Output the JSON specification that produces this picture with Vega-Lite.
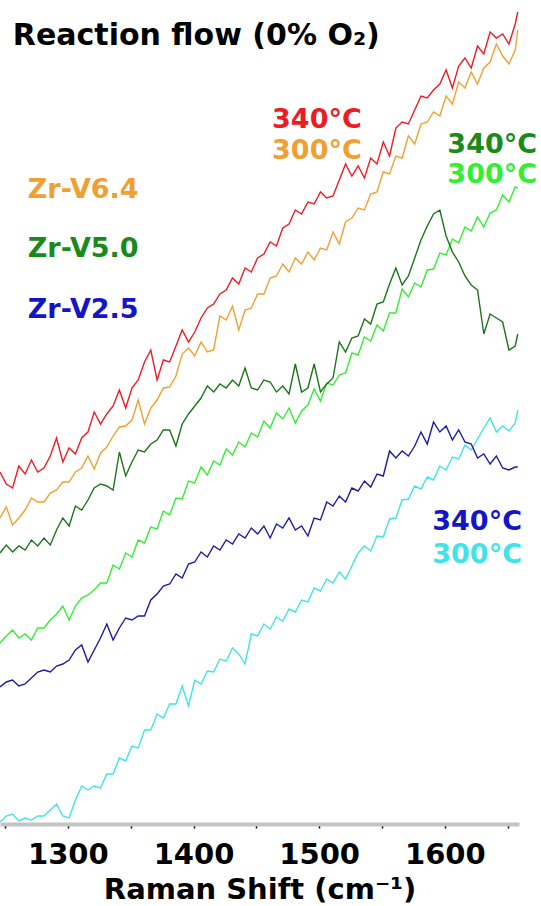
{
  "$schema": "https://vega.github.io/schema/vega-lite/v6.json",
  "width": 519,
  "height": 824,
  "autosize": {"type": "none"},
  "padding": {"left": 0, "top": 0, "right": 22, "bottom": 82},
  "background": "white",
  "config": {"view": {"stroke": null}, "font": "DejaVu Sans"},
  "datasets": {
    "spectra": [
      {"x":1246,"r":352,"o":306,"dg":271,"lg":181,"b":137,"c":2},
      {"x":1251,"r":340,"o":317,"dg":279,"lg":188,"b":142,"c":8},
      {"x":1256,"r":336,"o":299,"dg":272,"lg":194,"b":144,"c":10},
      {"x":1261,"r":358,"o":306,"dg":278,"lg":186,"b":138,"c":3},
      {"x":1266,"r":350,"o":314,"dg":274,"lg":190,"b":140,"c":6},
      {"x":1271,"r":364,"o":326,"dg":284,"lg":184,"b":146,"c":4},
      {"x":1276,"r":352,"o":322,"dg":278,"lg":196,"b":152,"c":8},
      {"x":1281,"r":356,"o":322,"dg":286,"lg":196,"b":154,"c":8},
      {"x":1286,"r":368,"o":331,"dg":279,"lg":204,"b":152,"c":14},
      {"x":1291,"r":386,"o":334,"dg":294,"lg":210,"b":158,"c":20},
      {"x":1296,"r":362,"o":342,"dg":306,"lg":218,"b":160,"c":8},
      {"x":1301,"r":376,"o":342,"dg":298,"lg":204,"b":164,"c":6},
      {"x":1306,"r":370,"o":352,"dg":318,"lg":218,"b":174,"c":24},
      {"x":1311,"r":386,"o":356,"dg":314,"lg":226,"b":179,"c":38},
      {"x":1316,"r":392,"o":368,"dg":324,"lg":229,"b":162,"c":34},
      {"x":1321,"r":412,"o":355,"dg":336,"lg":234,"b":174,"c":38},
      {"x":1326,"r":400,"o":371,"dg":340,"lg":241,"b":186,"c":36},
      {"x":1331,"r":410,"o":377,"dg":338,"lg":241,"b":200,"c":50},
      {"x":1336,"r":418,"o":388,"dg":334,"lg":259,"b":184,"c":50},
      {"x":1341,"r":434,"o":397,"dg":372,"lg":255,"b":196,"c":66},
      {"x":1346,"r":416,"o":398,"dg":348,"lg":271,"b":206,"c":63},
      {"x":1351,"r":436,"o":404,"dg":362,"lg":267,"b":204,"c":78},
      {"x":1356,"r":444,"o":424,"dg":374,"lg":284,"b":208,"c":76},
      {"x":1361,"r":462,"o":400,"dg":372,"lg":281,"b":208,"c":94},
      {"x":1366,"r":474,"o":416,"dg":380,"lg":297,"b":224,"c":94},
      {"x":1371,"r":444,"o":424,"dg":384,"lg":295,"b":230,"c":110},
      {"x":1376,"r":464,"o":436,"dg":394,"lg":313,"b":238,"c":106},
      {"x":1381,"r":462,"o":437,"dg":394,"lg":309,"b":240,"c":120},
      {"x":1386,"r":478,"o":448,"dg":378,"lg":326,"b":250,"c":120},
      {"x":1391,"r":494,"o":470,"dg":400,"lg":325,"b":246,"c":138},
      {"x":1396,"r":482,"o":476,"dg":410,"lg":343,"b":260,"c":118},
      {"x":1401,"r":492,"o":468,"dg":418,"lg":341,"b":262,"c":144},
      {"x":1406,"r":506,"o":482,"dg":426,"lg":357,"b":272,"c":140},
      {"x":1411,"r":516,"o":472,"dg":438,"lg":349,"b":267,"c":153},
      {"x":1416,"r":520,"o":474,"dg":432,"lg":363,"b":278,"c":152},
      {"x":1421,"r":530,"o":508,"dg":440,"lg":359,"b":274,"c":165},
      {"x":1426,"r":534,"o":504,"dg":436,"lg":375,"b":284,"c":163},
      {"x":1431,"r":546,"o":518,"dg":444,"lg":369,"b":280,"c":176},
      {"x":1436,"r":540,"o":494,"dg":438,"lg":382,"b":290,"c":170},
      {"x":1441,"r":556,"o":514,"dg":456,"lg":377,"b":286,"c":160},
      {"x":1446,"r":552,"o":516,"dg":436,"lg":391,"b":296,"c":190},
      {"x":1451,"r":566,"o":530,"dg":434,"lg":387,"b":290,"c":188},
      {"x":1456,"r":570,"o":530,"dg":444,"lg":403,"b":298,"c":200},
      {"x":1461,"r":582,"o":546,"dg":442,"lg":396,"b":286,"c":195},
      {"x":1466,"r":578,"o":548,"dg":432,"lg":411,"b":300,"c":207},
      {"x":1471,"r":596,"o":560,"dg":438,"lg":405,"b":296,"c":203},
      {"x":1476,"r":600,"o":552,"dg":430,"lg":416,"b":306,"c":215},
      {"x":1481,"r":614,"o":566,"dg":460,"lg":401,"b":294,"c":212},
      {"x":1486,"r":610,"o":560,"dg":432,"lg":413,"b":298,"c":224},
      {"x":1491,"r":622,"o":572,"dg":436,"lg":419,"b":288,"c":222},
      {"x":1496,"r":620,"o":564,"dg":460,"lg":435,"b":306,"c":236},
      {"x":1501,"r":632,"o":576,"dg":432,"lg":423,"b":304,"c":233},
      {"x":1506,"r":626,"o":574,"dg":440,"lg":441,"b":322,"c":245},
      {"x":1511,"r":628,"o":592,"dg":446,"lg":439,"b":318,"c":241},
      {"x":1516,"r":644,"o":580,"dg":482,"lg":449,"b":328,"c":252},
      {"x":1521,"r":660,"o":602,"dg":472,"lg":451,"b":322,"c":245},
      {"x":1526,"r":648,"o":606,"dg":486,"lg":471,"b":336,"c":258},
      {"x":1531,"r":658,"o":616,"dg":488,"lg":469,"b":333,"c":271},
      {"x":1536,"r":646,"o":614,"dg":505,"lg":487,"b":343,"c":278},
      {"x":1541,"r":666,"o":630,"dg":500,"lg":483,"b":337,"c":273},
      {"x":1546,"r":660,"o":632,"dg":520,"lg":499,"b":350,"c":288},
      {"x":1551,"r":682,"o":652,"dg":522,"lg":493,"b":348,"c":287},
      {"x":1556,"r":668,"o":650,"dg":540,"lg":511,"b":373,"c":305},
      {"x":1561,"r":696,"o":668,"dg":556,"lg":511,"b":366,"c":306},
      {"x":1566,"r":702,"o":666,"dg":539,"lg":535,"b":373,"c":324},
      {"x":1571,"r":700,"o":688,"dg":548,"lg":527,"b":368,"c":325},
      {"x":1576,"r":714,"o":680,"dg":566,"lg":541,"b":378,"c":338},
      {"x":1581,"r":728,"o":700,"dg":584,"lg":537,"b":392,"c":335},
      {"x":1586,"r":726,"o":702,"dg":598,"lg":554,"b":380,"c":347},
      {"x":1591,"r":734,"o":712,"dg":610,"lg":555,"b":402,"c":344},
      {"x":1596,"r":740,"o":708,"dg":614,"lg":571,"b":392,"c":358},
      {"x":1601,"r":754,"o":728,"dg":588,"lg":569,"b":398,"c":354},
      {"x":1606,"r":736,"o":720,"dg":572,"lg":585,"b":384,"c":367},
      {"x":1611,"r":758,"o":742,"dg":562,"lg":581,"b":394,"c":365},
      {"x":1616,"r":766,"o":736,"dg":548,"lg":597,"b":382,"c":379},
      {"x":1621,"r":756,"o":752,"dg":539,"lg":593,"b":380,"c":374},
      {"x":1626,"r":778,"o":740,"dg":534,"lg":607,"b":366,"c":385},
      {"x":1631,"r":770,"o":756,"dg":490,"lg":597,"b":370,"c":396},
      {"x":1636,"r":792,"o":762,"dg":510,"lg":611,"b":360,"c":406},
      {"x":1641,"r":786,"o":780,"dg":506,"lg":614,"b":368,"c":392},
      {"x":1646,"r":790,"o":768,"dg":502,"lg":629,"b":356,"c":398},
      {"x":1651,"r":780,"o":760,"dg":474,"lg":622,"b":354,"c":393},
      {"x":1656,"r":800,"o":774,"dg":478,"lg":637,"b":357,"c":401},
      {"x":1658,"r":812,"o":794,"dg":490,"lg":636,"b":357,"c":414}
    ],
    "labels": [
      {"x":1462.5,"y":696,"t":"340°C","s":"r"},
      {"x":1462.5,"y":665,"t":"300°C","s":"o"},
      {"x":1602,"y":671,"t":"340°C","s":"dgt"},
      {"x":1602,"y":641,"t":"300°C","s":"lg"},
      {"x":1590,"y":294,"t":"340°C","s":"bt"},
      {"x":1590,"y":261,"t":"300°C","s":"c"},
      {"x":1268.1,"y":626,"t":"Zr-V6.4","s":"o"},
      {"x":1268.1,"y":567,"t":"Zr-V5.0","s":"dgt"},
      {"x":1268.1,"y":506,"t":"Zr-V2.5","s":"bt"}
    ],
    "heading": [
      {"x":1256.2,"y":779,"t":"Reaction flow (0% O₂)"}
    ]
  },
  "layer": [
    {
      "data": {"name": "spectra"},
      "transform": [{"fold": ["c","b","lg","dg","o","r"], "as": ["s","y"]}],
      "mark": {"type": "line", "strokeWidth": 1.4},
      "encoding": {
        "x": {
          "field": "x", "type": "quantitative",
          "scale": {"domain": [1246, 1659], "nice": false, "zero": false},
          "axis": {
            "values": [1250,1275,1300,1325,1350,1375,1400,1425,1450,1475,1500,1525,1550,1575,1600,1625,1650],
            "format": "d",
            "labelExpr": "datum.value % 100 === 0 ? datum.label : ''",
            "labelOverlap": false,
            "labelFlush": false,
            "title": "Raman Shift (cm⁻¹)",
            "grid": false,
            "domainColor": "#c4c4c4",
            "domainWidth": 4,
            "tickColor": "black",
            "tickWidth": 1.5,
            "tickSize": 4,
            "labelFont": "DejaVu Sans",
            "labelFontSize": 29,
            "labelFontWeight": "bold",
            "labelColor": "black",
            "labelPadding": 12,
            "titleFont": "DejaVu Sans",
            "titleFontSize": 29,
            "titleFontWeight": "bold",
            "titleColor": "black",
            "titlePadding": 6
          }
        },
        "y": {
          "field": "y", "type": "quantitative",
          "scale": {"domain": [0, 824], "nice": false, "zero": false},
          "axis": null
        },
        "color": {
          "field": "s", "type": "nominal",
          "scale": {"domain": ["r","o","dg","lg","b","c","dgt","bt"], "range": ["#ec1c24","#f0a032","#1d741d","#33ee33","#1c1ca0","#40e4e8","#1a8a1a","#1414c8"]},
          "legend": null
        }
      }
    },
    {
      "data": {"name": "labels"},
      "mark": {"type": "text", "align": "left", "baseline": "alphabetic", "font": "DejaVu Sans", "fontSize": 27, "fontWeight": "bold"},
      "encoding": {
        "x": {"field": "x", "type": "quantitative"},
        "y": {"field": "y", "type": "quantitative"},
        "text": {"field": "t"},
        "color": {"field": "s", "type": "nominal"}
      }
    },
    {
      "data": {"name": "heading"},
      "mark": {"type": "text", "align": "left", "baseline": "alphabetic", "font": "DejaVu Sans", "fontSize": 30, "fontWeight": "bold", "color": "black"},
      "encoding": {
        "x": {"field": "x", "type": "quantitative"},
        "y": {"field": "y", "type": "quantitative"},
        "text": {"field": "t"}
      }
    }
  ]
}
